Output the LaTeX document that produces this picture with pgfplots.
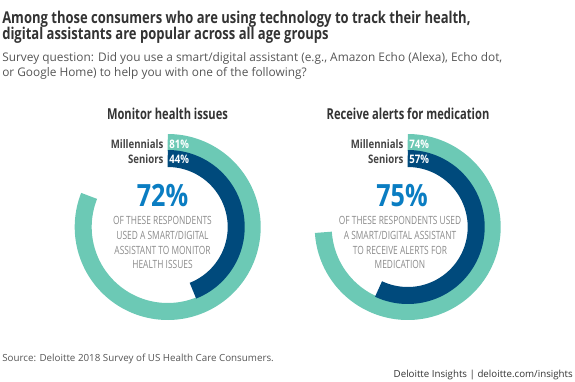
\documentclass[border=0pt]{standalone}
\usepackage{fontspec}
\setmainfont{Open Sans}
\newfontfamily\condfont{Open Sans}[FakeStretch=0.82]
\newfontfamily\ttlcond{Open Sans}[FakeStretch=0.80]
\newfontfamily\pcond{Open Sans}[FakeStretch=0.74]
\newfontfamily\capsfont{Open Sans}[FakeStretch=0.74]
\usepackage{pgfplots}
\pgfplotsset{compat=1.18}
\definecolor{mteal}{HTML}{6CC9B5}
\definecolor{dblue}{HTML}{004A7C}
\definecolor{bigblue}{HTML}{0A7DC2}
\definecolor{ttl}{HTML}{333333}
\definecolor{subc}{HTML}{555555}
\definecolor{capsc}{HTML}{8A8A8A}
\definecolor{lblc}{HTML}{444444}
\tikzset{
  ttlfont/.style={font=\ttlcond\bfseries\fontsize{12.2}{14}\selectfont, text=ttl, inner sep=0pt},
  subfont/.style={font=\fontsize{8.9}{10}\selectfont, text=subc, inner sep=0pt},
  pttl/.style={anchor=base, font=\pcond\bfseries\fontsize{11.3}{13}\selectfont, text=ttl, inner sep=0pt},
  lbl/.style={anchor=base east, font=\condfont\bfseries\fontsize{8.8}{10}\selectfont, text=lblc, inner sep=0pt},
  pct/.style={anchor=base west, font=\condfont\bfseries\fontsize{8.8}{10}\selectfont, text=white, inner sep=0pt},
  big/.style={anchor=base, font=\condfont\bfseries\fontsize{23}{24}\selectfont, text=bigblue, inner sep=0pt},
  caps/.style={anchor=base, font=\capsfont\fontsize{8.5}{10}\selectfont, text=capsc, inner sep=0pt},
}
\begin{document}
\begin{tikzpicture}
\begin{axis}[name=ax, x=0.75pt, y=0.75pt, xmin=0, xmax=575, ymin=0, ymax=382,
  y dir=reverse, hide axis, clip=false]
% Monitor health issues: Millennials 81, Seniors 44
\addplot[mteal, line width=12.75pt, domain=0:81, samples=160]
  ({167.7+84.5*sin(3.6*x)},{227-84.5*cos(3.6*x)});
\addplot[dblue, line width=12.75pt, domain=0:44, samples=100]
  ({167.7+68.5*sin(3.6*x)},{227-68.5*cos(3.6*x)});
% Receive alerts for medication: Millennials 74, Seniors 57
\addplot[mteal, line width=12.75pt, domain=0:74, samples=160]
  ({407.7+84.5*sin(3.6*x)},{227-84.5*cos(3.6*x)});
\addplot[dblue, line width=12.75pt, domain=0:57, samples=120]
  ({407.7+68.5*sin(3.6*x)},{227-68.5*cos(3.6*x)});

% titles
\node[anchor=base west, ttlfont] at (axis cs:2,23.5) {Among those consumers who are using technology to track their health,};
\node[anchor=base west, ttlfont] at (axis cs:2,39.5) {digital assistants are popular across all age groups};
\node[anchor=base west, subfont] at (axis cs:2,61.7) {Survey question: Did you use a smart/digital assistant (e.g., Amazon Echo (Alexa), Echo dot,};
\node[anchor=base west, subfont] at (axis cs:2,76) {or Google Home) to help you with one of the following?};

% panel titles
\node[pttl] at (axis cs:167.5,119) {Monitor health issues};
\node[pttl] at (axis cs:408,119) {Receive alerts for medication};

% ring labels
\node[lbl] at (axis cs:163.7,148) {Millennials};
\node[pct] at (axis cs:169.2,148) {81\%};
\node[lbl] at (axis cs:163.7,163.5) {Seniors};
\node[pct] at (axis cs:169.2,163.5) {44\%};
\node[lbl] at (axis cs:403.7,148) {Millennials};
\node[pct] at (axis cs:409.2,148) {74\%};
\node[lbl] at (axis cs:403.7,163.5) {Seniors};
\node[pct] at (axis cs:409.2,163.5) {57\%};

% big numbers
\node[big] at (axis cs:162.5,206) {72\%};
\node[big] at (axis cs:402,206) {75\%};

% caps texts
\node[caps] at (axis cs:162.5,224) {OF THESE RESPONDENTS};
\node[caps] at (axis cs:162.5,239) {USED A SMART/DIGITAL};
\node[caps] at (axis cs:162.5,254) {ASSISTANT TO MONITOR};
\node[caps] at (axis cs:162.5,268.5) {HEALTH ISSUES};
\node[caps] at (axis cs:400,224) {OF THESE RESPONDENTS USED};
\node[caps] at (axis cs:400,239) {A SMART/DIGITAL ASSISTANT};
\node[caps] at (axis cs:400,254) {TO RECEIVE ALERTS FOR};
\node[caps] at (axis cs:400,268.5) {MEDICATION};

% footer
\node[anchor=base west, font=\fontsize{7.35}{8}\selectfont, text=subc, inner sep=0pt]
  at (axis cs:2,361.5) {Source: Deloitte 2018 Survey of US Health Care Consumers.};
\node[anchor=base east, font=\fontsize{7.3}{8}\selectfont, text=ttl, inner sep=0pt]
  at (axis cs:573,377.5) {Deloitte Insights | deloitte.com/insights};
\end{axis}
\pgfresetboundingbox
\path (ax.south west) rectangle (ax.north east);
\end{tikzpicture}
\end{document}
